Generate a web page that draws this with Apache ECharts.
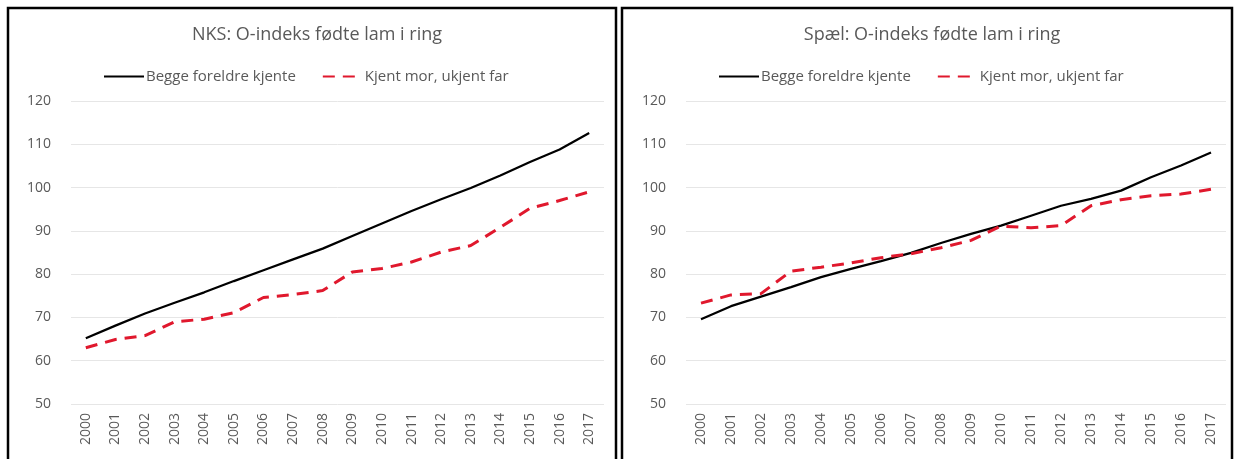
<!DOCTYPE html>
<html>
<head>
<meta charset="utf-8">
<script src="https://cdn.jsdelivr.net/npm/echarts@6/dist/echarts.min.js"></script>
<style>
  html, body { margin: 0; padding: 0; background: #ffffff; }
  #chart { width: 1235px; height: 459px; }
</style>
</head>
<body>
<div id="chart"></div>
<script>
// Years on the category axis
const years = ['2000','2001','2002','2003','2004','2005','2006','2007','2008',
               '2009','2010','2011','2012','2013','2014','2015','2016','2017'];

// Series names
const nameBoth = 'Begge foreldre kjente';
const nameMother = 'Kjent mor, ukjent far';

// Panel titles
const titleNks = 'NKS: O-indeks fødte lam i ring';
const titleSpael = 'Spæl: O-indeks fødte lam i ring';

// NKS O-index values
const nksBoth   = [65.2, 68.1, 70.9, 73.4, 75.8, 78.4, 80.9, 83.4, 85.9, 88.8, 91.7, 94.6, 97.3, 99.9, 102.8, 105.9, 108.8, 112.6];
const nksMother = [63.0, 64.9, 65.8, 69.0, 69.6, 71.1, 74.6, 75.3, 76.2, 80.5, 81.3, 82.8, 85.1, 86.6, 90.8, 95.2, 97.0, 99.0];

// Spæl O-index values
const spaelBoth   = [69.6, 72.6, 74.8, 77.0, 79.3, 81.2, 83.0, 84.9, 87.2, 89.3, 91.2, 93.5, 95.8, 97.4, 99.3, 102.4, 105.1, 108.1];
const spaelMother = [73.3, 75.2, 75.5, 80.7, 81.6, 82.6, 83.8, 84.7, 86.1, 87.8, 91.1, 90.7, 91.2, 95.8, 97.2, 98.1, 98.5, 99.6];

// Value axis range
const yMin = 50, yMax = 120, yStep = 10;

const FONT = '"Open Sans", Lato, sans-serif';
const GREY = '#595959';

function xAxisFor(gridIndex) {
  return {
    type: 'category', gridIndex: gridIndex, data: years, boundaryGap: true,
    axisLine: { show: false }, axisTick: { show: false },
    axisLabel: { rotate: 90, color: GREY, fontFamily: FONT, fontSize: 14, margin: 9 }
  };
}
function yAxisFor(gridIndex) {
  return {
    type: 'value', gridIndex: gridIndex, min: yMin, max: yMax, interval: yStep,
    axisLine: { show: false }, axisTick: { show: false },
    axisLabel: { color: GREY, fontFamily: FONT, fontSize: 14, margin: 20 },
    splitLine: { lineStyle: { color: '#e6e6e6', width: 1 } }
  };
}
function solidSeries(idx, data) {
  return {
    name: nameBoth, type: 'line', xAxisIndex: idx, yAxisIndex: idx, data: data,
    symbol: 'none', smooth: false, color: '#000000',
    lineStyle: { color: '#000000', width: 2.25 }
  };
}
function dashedSeries(idx, data) {
  return {
    name: nameMother, type: 'line', xAxisIndex: idx, yAxisIndex: idx, data: data,
    symbol: 'none', smooth: false, color: '#e0182d',
    lineStyle: { color: '#e0182d', width: 3, type: [12, 8] }
  };
}
function legendAt(left) {
  return {
    left: left, top: 64, itemWidth: 40, itemHeight: 14, itemGap: 26,
    data: [nameBoth, nameMother],
    itemStyle: { opacity: 0 },
    textStyle: { color: GREY, fontFamily: FONT, fontSize: 15, padding: [0, 0, 0, -3] }
  };
}
function titleAt(left, text) {
  return {
    text: text, left: left, top: 21, textAlign: 'center',
    textStyle: { color: GREY, fontFamily: FONT, fontSize: 18, fontWeight: 'normal' }
  };
}

const chart = echarts.init(document.getElementById('chart'), null, { renderer: 'canvas' });
chart.setOption({
  backgroundColor: '#ffffff',
  animation: false,
  title: [ titleAt(312, titleNks), titleAt(927, titleSpael) ],
  legend: [ legendAt(98), legendAt(713) ],
  grid: [
    { left: 71,  right: 631, top: 101, bottom: 55 },
    { left: 686, right: 9,   top: 101, bottom: 55 }
  ],
  xAxis: [ xAxisFor(0), xAxisFor(1) ],
  yAxis: [ yAxisFor(0), yAxisFor(1) ],
  series: [
    solidSeries(0, nksBoth), dashedSeries(0, nksMother),
    solidSeries(1, spaelBoth), dashedSeries(1, spaelMother)
  ],
  graphic: [
    { type: 'rect', shape: { x: 8, y: 8, width: 608, height: 470 },
      style: { fill: 'none', stroke: '#000000', lineWidth: 2.5 }, silent: true },
    { type: 'rect', shape: { x: 622, y: 8, width: 610, height: 470 },
      style: { fill: 'none', stroke: '#000000', lineWidth: 2.5 }, silent: true }
  ]
});
</script>
</body>
</html>
